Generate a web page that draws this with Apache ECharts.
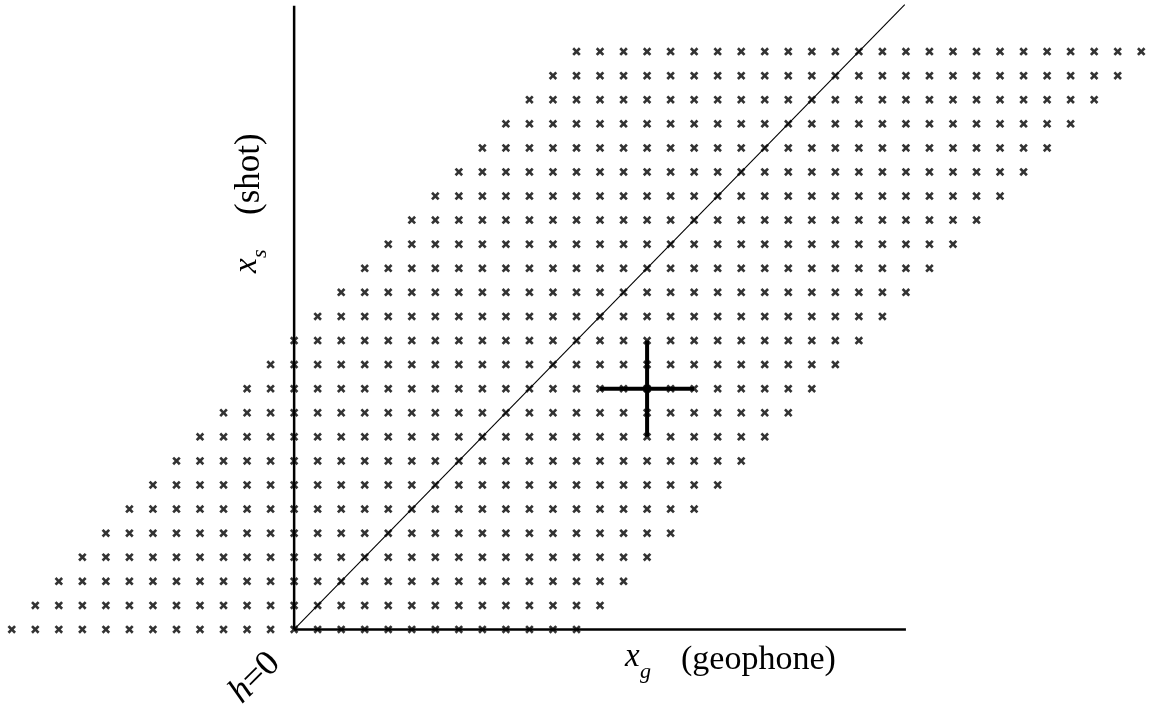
<!DOCTYPE html>
<html>
<head>
<meta charset="utf-8">
<script src="https://cdn.jsdelivr.net/npm/echarts@6/dist/echarts.min.js"></script>
<style>
html,body{margin:0;padding:0;background:#fff;}
#chart{width:1153px;height:710px;}
</style>
</head>
<body>
<div id="chart"></div>
<script>
// Shot positions (rows) and offsets h = xg - xs (columns relative to the diagonal)
const shots = [0,1,2,3,4,5,6,7,8,9,10,11,12,13,14,15,16,17,18,19,20,21,22,23,24];
const offsets = [-12,-11,-10,-9,-8,-7,-6,-5,-4,-3,-2,-1,0,1,2,3,4,5,6,7,8,9,10,11,12];
// Highlighted point (xg, xs) and its stencil arm length (in grid units)
const crossCenter = [15, 10];
const crossArm = 2;
// Axis extents
const xgAxisEnd = 26;
const xsAxisEnd = 25.9;
const diagonalEnd = 25.95;

const points = [];
shots.forEach(s => offsets.forEach(h => points.push([s + h, s])));

const X_PATH = 'path://M0,2.2L2.2,0L5,2.8L7.8,0L10,2.2L7.2,5L10,7.8L7.8,10L5,7.2L2.2,10L0,7.8L2.8,5Z';
const SERIF = '"Liberation Serif", "DejaVu Serif", serif';
const INK = '#000';

const chart = echarts.init(document.getElementById('chart'), null, {renderer: 'canvas'});

function lineSeries(data, width, z) {
  return {
    type: 'line', data: data, symbol: 'none', silent: true, z: z,
    lineStyle: {color: INK, width: width}, animation: false
  };
}

const option = {
  animation: false,
  backgroundColor: '#fff',
  grid: {left: 0, width: 1157.4, top: 3.4, height: 698.3, containLabel: false},
  xAxis: {type: 'value', min: -12.5, max: 36.5, show: false},
  yAxis: {type: 'value', min: -3, max: 26, show: false},
  series: [
    lineSeries([[0, 0], [0, xsAxisEnd]], 2.5, 2),
    lineSeries([[0, 0], [xgAxisEnd, 0]], 2.5, 2),
    lineSeries([[0, 0], [diagonalEnd, diagonalEnd]], 1.1, 2),
    {
      type: 'scatter', data: points, symbol: X_PATH, symbolSize: 8.5, z: 3,
      itemStyle: {color: INK}, silent: true
    },
    lineSeries([[crossCenter[0] - crossArm, crossCenter[1]], [crossCenter[0] + crossArm, crossCenter[1]]], 4, 4),
    lineSeries([[crossCenter[0], crossCenter[1] - crossArm], [crossCenter[0], crossCenter[1] + crossArm]], 4, 4),
    {
      type: 'scatter', data: [crossCenter], symbol: 'circle', symbolSize: 8, z: 5,
      itemStyle: {color: INK}, silent: true
    }
  ],
  graphic: [
    {
      type: 'group', x: 625, y: 674,
      children: [
        {type: 'text', x: 0, y: 0, style: {text: 'x', font: 'italic 33px ' + SERIF, fill: INK, textAlign: 'left', textVerticalAlign: 'bottom'}},
        {type: 'text', x: 15, y: 9, style: {text: 'g', font: 'italic 22px ' + SERIF, fill: INK, textAlign: 'left', textVerticalAlign: 'bottom'}},
        {type: 'text', x: 56, y: 3, style: {text: '(geophone)', font: '34px ' + SERIF, fill: INK, textAlign: 'left', textVerticalAlign: 'bottom'}}
      ]
    },
    {
      type: 'group', x: 264, y: 273, rotation: Math.PI / 2,
      children: [
        {type: 'text', x: 0, y: 0, style: {text: 'x', font: 'italic 33px ' + SERIF, fill: INK, textAlign: 'left', textVerticalAlign: 'bottom'}},
        {type: 'text', x: 15, y: 7, style: {text: 's', font: 'italic 22px ' + SERIF, fill: INK, textAlign: 'left', textVerticalAlign: 'bottom'}},
        {type: 'text', x: 58, y: 3, style: {text: '(shot)', font: '35px ' + SERIF, fill: INK, textAlign: 'left', textVerticalAlign: 'bottom'}}
      ]
    },
    {
      type: 'group', x: 255, y: 678, rotation: Math.PI / 4,
      children: [
        {type: 'text', x: 0, y: 0, style: {
          text: '{i|h}{n|=0}', fill: INK, textAlign: 'center', textVerticalAlign: 'middle',
          rich: {
            i: {font: 'italic 36px ' + SERIF, fill: INK},
            n: {font: '36px ' + SERIF, fill: INK}
          }
        }}
      ]
    }
  ]
};
chart.setOption(option);
</script>
</body>
</html>
